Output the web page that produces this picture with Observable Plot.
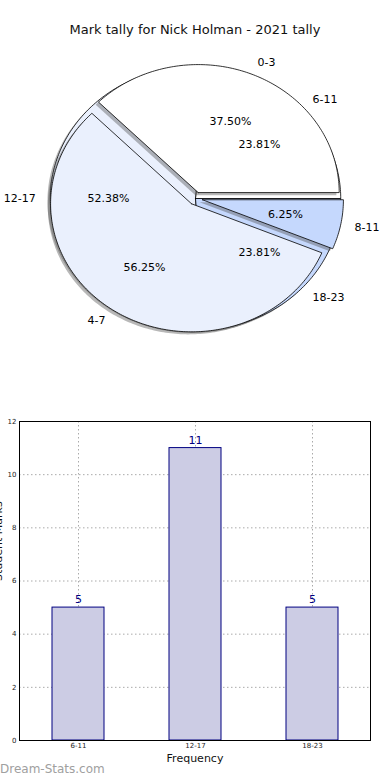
<!DOCTYPE html>
<html><head><meta charset="utf-8">
<script src="https://cdn.jsdelivr.net/npm/d3@7"></script>
<script src="https://cdn.jsdelivr.net/npm/@observablehq/plot@0.6"></script>
<style>
body{margin:0;background:#fff;font-family:"DejaVu Sans",sans-serif;}
#wrap{position:relative;width:390px;height:780px;overflow:hidden;background:#fff;}
#title{position:absolute;top:22px;left:0;width:390px;text-align:center;font-size:13px;color:#111;}
#pie{position:absolute;top:0;left:0;}
#bar{position:absolute;top:390px;left:0;}
#wm{position:absolute;left:0;top:762px;font-size:12px;color:#a0a0a0;}
</style></head><body>
<div id="wrap"><div id="pie"></div><div id="bar"></div>
<div id="title">Mark tally for Nick Holman - 2021 tally</div>
<div id="wm">Dream-Stats.com</div></div>
<script>
// ---- data ----
const innerLabels = ["0-3", "4-7", "8-11"];
const innerCounts = [6, 9, 1];
const outerLabels = ["6-11", "12-17", "18-23"];
const outerCounts = [5, 11, 5];
const barCategories = ["6-11", "12-17", "18-23"];
const barValues = [5, 11, 5];
const yTicks = [0, 2, 4, 6, 8, 10, 12];
const sliceColors = ["#ffffff", "#eaf0fd", "#c5d8fd"];

// ---- pie geometry helpers (angles from data) ----
function buildSlices(labels, counts, explode, radius) {
  const total = d3.sum(counts);
  let acc = 0;
  return labels.map((lab, i) => {
    const f = counts[i] / total;
    const a1 = acc * 360, a2 = (acc + f) * 360;
    acc += f;
    const mid = (a1 + a2) / 2 * Math.PI / 180;
    const ox = explode * Math.cos(mid), oy = explode * Math.sin(mid);
    const pts = [{x: ox, y: oy}];
    const n = Math.max(2, Math.ceil(a2 - a1));
    for (let k = 0; k <= n; k++) {
      const t = (a1 + (a2 - a1) * k / n) * Math.PI / 180;
      pts.push({x: ox + radius * Math.cos(t), y: oy + radius * Math.sin(t)});
    }
    pts.push({x: ox, y: oy});
    return {label: lab, frac: f, mid, ox, oy, radius, pts, color: sliceColors[i]};
  });
}
const outer = buildSlices(outerLabels, outerCounts, 0, 1.03);
const inner = buildSlices(innerLabels, innerCounts, 0.05, 1);

function shadowMarks(slices) {
  return slices.map(s => Plot.line(s.pts.map(p => ({x: p.x - 0.02, y: p.y - 0.02})),
    {x: "x", y: "y", fill: "#4d4d4d", fillOpacity: 0.4, stroke: "none"}));
}
function wedgeMarks(slices) {
  return slices.map(s => Plot.line(s.pts, {x: "x", y: "y", fill: s.color, stroke: "#000", strokeWidth: 0.8}));
}
function labelRows(slices) {
  const rows = [];
  slices.forEach(s => {
    const c = Math.cos(s.mid), sn = Math.sin(s.mid), r = s.radius;
    rows.push({x: s.ox + 1.1 * r * c, y: s.oy + 1.1 * r * sn, text: s.label, anchor: c >= 0 ? "start" : "end"});
    rows.push({x: s.ox + 0.6 * r * c, y: s.oy + 0.6 * r * sn, text: d3.format(".2f")(s.frac * 100) + "%", anchor: "middle"});
  });
  return rows;
}
const labs = labelRows(outer).concat(labelRows(inner));

const cx = 195, cy = 198, rx = 141, ry = 128;
const pie = Plot.plot({
  width: 390, height: 390, margin: 0,
  style: {fontFamily: "DejaVu Sans", background: "transparent"},
  x: {domain: [-1, 1], range: [cx - rx, cx + rx], axis: null},
  y: {domain: [-1, 1], range: [cy + ry, cy - ry], axis: null},
  marks: [
    ...shadowMarks(outer), ...wedgeMarks(outer),
    ...shadowMarks(inner), ...wedgeMarks(inner),
    Plot.text(labs.filter(d => d.anchor === "start"), {x: "x", y: "y", text: "text", textAnchor: "start", fontSize: 11, fill: "#000"}),
    Plot.text(labs.filter(d => d.anchor === "end"), {x: "x", y: "y", text: "text", textAnchor: "end", fontSize: 11, fill: "#000"}),
    Plot.text(labs.filter(d => d.anchor === "middle"), {x: "x", y: "y", text: "text", textAnchor: "middle", fontSize: 11, fill: "#000"})
  ]
});
document.getElementById("pie").appendChild(pie);

// ---- bar chart ----
const barData = barCategories.map((c, i) => ({cat: c, value: barValues[i]}));
const bar = Plot.plot({
  width: 390, height: 390,
  marginTop: 31, marginBottom: 40, marginLeft: 19, marginRight: 20,
  style: {fontFamily: "DejaVu Sans", background: "transparent", overflow: "visible"},
  x: {domain: barCategories, paddingInner: 0.556, paddingOuter: 0.278, axis: null},
  y: {domain: [0, 12], axis: null},
  marks: [
    Plot.ruleY(yTicks, {stroke: "#aaa", strokeDasharray: "1.5,2.5"}),
    Plot.ruleX(barCategories, {stroke: "#aaa", strokeDasharray: "1.5,2.5"}),
    Plot.barY(barData, {x: "cat", y: "value", fill: "#ccccE4", stroke: "#000080", strokeWidth: 1}),
    Plot.text(barData, {x: "cat", y: "value", text: d => String(d.value), dy: -8, fill: "#000080", fontSize: 11}),
    Plot.frame({stroke: "#000", strokeWidth: 1}),
    Plot.axisY({ticks: yTicks, tickSize: 0, tickPadding: 3, fontSize: 7, label: null, fill: "#222"}),
    Plot.axisX({tickSize: 0, tickPadding: 3, fontSize: 7, label: null, fill: "#222"}),
    Plot.text(["Frequency"], {frameAnchor: "bottom", dy: 21, text: d => d, fontSize: 11, fill: "#111"}),
    Plot.text(["Student Marks"], {frameAnchor: "left", dx: -21, rotate: -90, text: d => d, fontSize: 11, fill: "#111"})
  ]
});
document.getElementById("bar").appendChild(bar);
</script>
</body></html>
